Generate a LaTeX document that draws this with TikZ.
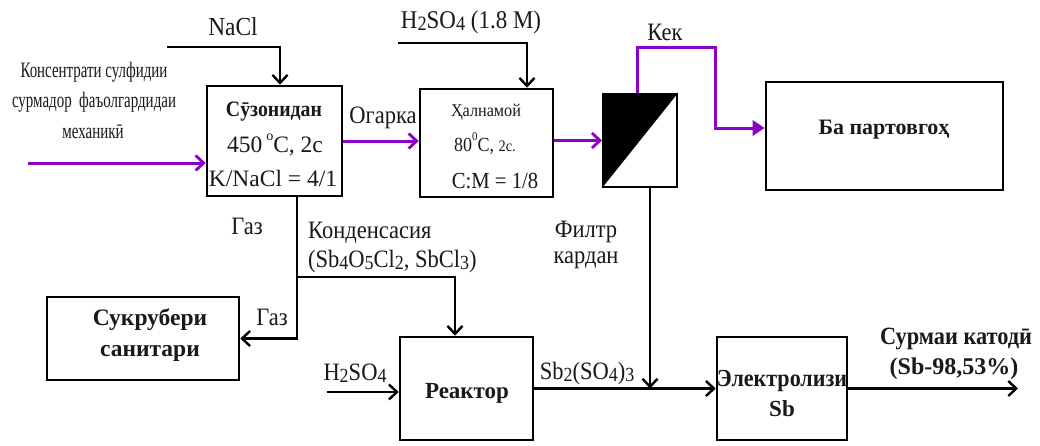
\documentclass[tikz,border=0pt]{standalone}
\usepackage{fontspec}
\setmainfont{Liberation Serif}
\newfontfamily\condf{Liberation Serif}[FakeStretch=0.68]
\newfontfamily\narf{Liberation Serif}[FakeStretch=0.9]
\usetikzlibrary{arrows.meta}
\definecolor{vio}{RGB}{140,0,200}
\definecolor{ink}{RGB}{25,25,25}
\newcommand\dsub[1]{\raisebox{-0.08em}{\scalebox{0.8}{#1}}}
\newcommand\usup[1]{\raisebox{0.55em}{\scalebox{0.6}{#1}}}
\newcommand\fs[1]{\fontsize{#1}{#1}\selectfont}
\begin{document}
\begin{tikzpicture}[x=1pt,y=-1pt,
  box/.style={draw,line width=2.6pt,inner sep=0pt,fill=white},
  lbl/.style={inner sep=0pt,text=ink,font=\narf\fs{25}},
  arr/.style={line width=2.4pt,-{Straight Barb[length=8pt,width=15pt,line width=2.4pt]}},
  varr/.style={draw=vio,line width=3pt,-{Straight Barb[length=8pt,width=15pt,line width=2.8pt]}},
  varrf/.style={draw=vio,line width=3pt,-{Triangle[length=12pt,width=15pt]}}]
\useasboundingbox (0,0) rectangle (1040,445);
\fill[white] (0,0) rectangle (1040,445);
% boxes
\node[box,minimum width=135pt,minimum height=110pt] (szon) at (274.5,141) {};
\node[box,minimum width=133pt,minimum height=108pt] (haln) at (486.5,143) {};
\node[box,minimum width=74pt,minimum height=93pt,line width=2pt] (filter) at (640,140.5) {};
\fill (filter.south west) -- (filter.north west) -- (filter.north east) -- cycle;
\node[box,minimum width=237pt,minimum height=108pt] (bapart) at (884.5,136) {};
\node[box,minimum width=192pt,minimum height=83pt] (sukr) at (143,338.5) {};
\node[box,minimum width=133pt,minimum height=103pt] (reak) at (466.5,388.5) {};
\node[box,minimum width=130pt,minimum height=103pt] (elek) at (782,388.5) {};
% box texts
\node[lbl,font=\bfseries\narf\fs{22}] (t1) at (274,112) {Сӯзонидан};
\node[lbl,font=\fs{23.5}] (t2) at (275,145) {450\,\usup{o}C, 2с};
\node[lbl,font=\fs{23.5}] (t3) at (273,178) {K/NaCl = 4/1};
\node[lbl,font=\narf\fs{18}] (t4) at (486,112) {Ҳалнамой};
\node[lbl,font=\narf\fs{20}] (t5) at (485,144) {80\usup{0}C, \fs{16}2с.};
\node[lbl,font=\narf\fs{23}] (t6) at (495,181) {С:М = 1/8};
\node[lbl,font=\bfseries\fs{22}] (t7) at (884,130) {Ба партовгоҳ};
\node[lbl,font=\bfseries\fs{23.5}] (t8) at (150,320) {Сукрубери};
\node[lbl,font=\bfseries\fs{23.5}] (t9) at (150,353) {санитари};
\node[lbl,font=\bfseries\fs{23}] (t10) at (467,393) {Реактор};
\node[lbl,font=\bfseries\narf\fs{24.5}] (t11) at (782,381) {Электролизи};
\node[lbl,font=\bfseries\fs{23}] (t12) at (782,409) {Sb};
% free labels
\node[lbl,font=\condf\fs{22}] (l1) at (94,72) {Консентрати сулфидии};
\node[lbl,font=\condf\fs{22}] (l2) at (94,102) {сурмадор\ \ фаъолгардидаи};
\node[lbl,font=\condf\fs{22}] (l3) at (93,132) {механикӣ};
\node[lbl,font=\narf\fs{26}] (l4) at (233,27) {NaCl};
\node[lbl,font=\narf\fs{25.5}] (l5) at (471,22) {H\dsub{2}SO\dsub{4} (1.8 M)};
\node[lbl] (l6) at (383,118) {Огарка};
\node[lbl] (l7) at (665,32) {Кек};
\node[lbl] (l8) at (247,226) {Газ};
\node[lbl,anchor=west] (l9) at (308,233) {Конденсасия};
\node[lbl,anchor=west] (l10) at (308,261) {(Sb\dsub{4}O\dsub{5}Cl\dsub{2}, SbCl\dsub{3})};
\node[lbl] (l11) at (272,317) {Газ};
\node[lbl] (l12) at (355,373) {H\dsub{2}SO\dsub{4}};
\node[lbl] (l13) at (587,373) {Sb\dsub{2}(SO\dsub{4})\dsub{3}};
\node[lbl] (l14) at (586,232) {Филтр};
\node[lbl] (l15) at (586,260) {кардан};
\node[lbl,font=\bfseries\narf\fs{24.8}] (l16) at (956,339) {Сурмаи катодӣ};
\node[lbl,font=\bfseries\fs{24}] (l17) at (954,369) {(Sb-98,53\%)};
% free ends
\coordinate (feed) at (28,163);
\coordinate (naclS) at (167,47);
\coordinate (h2s) at (398,43);
\coordinate (kek1) at (715,47);
\coordinate (h2in) at (327,392);
\coordinate (out) at (1018,388.5);
\coordinate (br) at (297,277);
% connectors
\draw[varr] (feed) -- (feed -| szon.west);
\draw[arr] (naclS) -| ([xshift=5.5pt]szon.north);
\draw[varr] (szon.east) -- (szon.east -| haln.west);
\draw[arr] (h2s) -| ([xshift=40.5pt]haln.north);
\draw[varr] ([yshift=2.5pt]haln.east) -- ([yshift=2.5pt]haln.east -| filter.west);
\draw[varrf] ([xshift=-3pt]filter.north) |- (kek1) |- ([yshift=8pt]bapart.west);
\draw[arr] ([xshift=10pt]filter.south) -- ([xshift=10pt]filter.south |- reak.east);
\draw[arr] (reak.east) -- (elek.west);
\draw[arr] (elek.east) -- (out);
\draw[arr] (h2in) -- (h2in -| reak.west);
\draw[arr] ([xshift=22.5pt]szon.south) |- (sukr.east);
\draw[arr] (br) -| ([xshift=-11.5pt]reak.north);
\end{tikzpicture}
\end{document}
